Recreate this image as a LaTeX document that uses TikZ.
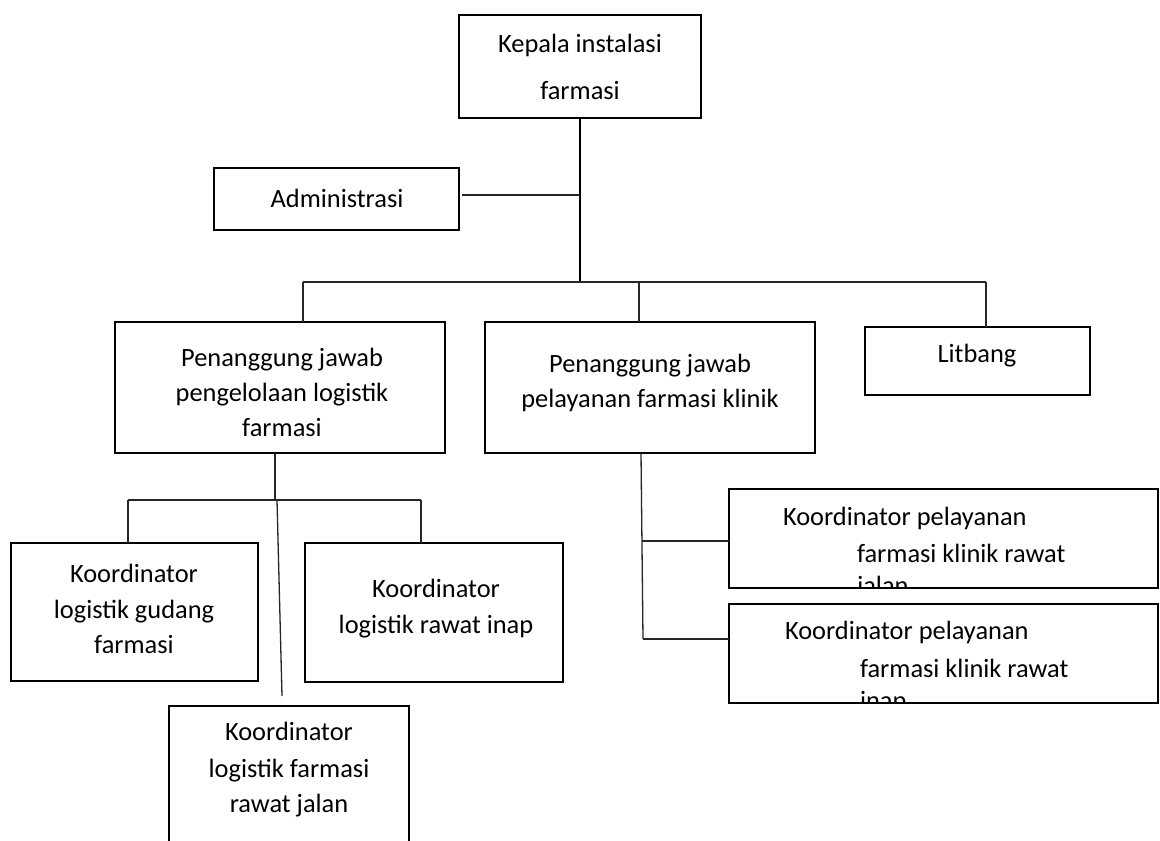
\documentclass[tikz,border=0pt]{standalone}
\usepackage{fontspec}
\setmainfont{Carlito}
\newcommand\orgbox[5]{\node[box, minimum width={#4-#2}, minimum height={#5-#3}] (#1) at ({(#2+#4)/2},{(#3+#5)/2}) {};}
\tikzset{
  box/.style={draw=black, line width=2.6pt, inner sep=0pt, outer sep=0pt},
  lbl/.style={anchor=base, inner sep=0pt, outer sep=0pt, font=\fontsize{26.4}{32}\selectfont},
  lblw/.style={lbl, anchor=base west},
  lnk/.style={line width=1.3pt, draw=black!85},
  trunk/.style={line width=2.8pt, draw=black}
}
\begin{document}
\begin{tikzpicture}[x=1pt,y=-1pt]
\clip (0,0) rectangle (1160,841);
\fill[white] (0,0) rectangle (1160,841);
% boxes
\orgbox{kepala}{459}{15}{701}{118}
\orgbox{admin}{214}{168}{459}{230}
\orgbox{pjone}{115}{322}{445}{453}
\orgbox{pjtwo}{485}{322}{815}{453}
\orgbox{litbang}{865}{327}{1090}{395}
\orgbox{klg}{11}{543}{258}{681}
\orgbox{klri}{305}{543}{563}{682}
\orgbox{klrj}{169}{706}{409}{870}
\orgbox{kpone}{729}{489}{1158}{588}
\orgbox{kptwo}{729}{604}{1158}{703}
% texts
\node[lbl] (t1) at (580,52) {Kepala instalasi};
\node[lbl] (t2) at (580,99) {farmasi};
\node[lbl] (t3) at (337,207) {Administrasi};
\node[lbl] (t4) at (282,366) {Penanggung jawab};
\node[lbl] (t5) at (282,401) {pengelolaan logistik};
\node[lbl] (t6) at (282,436) {farmasi};
\node[lbl] (t7) at (650,372) {Penanggung jawab};
\node[lbl] (t8) at (650,407) {pelayanan farmasi klinik};
\node[lbl] (t9) at (977,362) {Litbang};
\node[lbl] (t10) at (134,582) {Koordinator};
\node[lbl] (t11) at (134,618) {logistik gudang};
\node[lbl] (t12) at (134,653) {farmasi};
\node[lbl] (t13) at (436,597) {Koordinator};
\node[lbl] (t14) at (436,633) {logistik rawat inap};
\node[lbl] (t15) at (289,740) {Koordinator};
\node[lbl] (t16) at (289,777) {logistik farmasi};
\node[lbl] (t17) at (289,812) {rawat jalan};
\begin{scope}
\clip (729,489) rectangle (1158,588);
\node[lblw] (t18) at (783,525) {Koordinator pelayanan};
\node[lblw] (t19) at (857,562) {farmasi klinik rawat};
\node[lblw] (t20) at (857,594) {jalan};
\end{scope}
\begin{scope}
\clip (729,604) rectangle (1158,703);
\node[lblw] (t21) at (785,639) {Koordinator pelayanan};
\node[lblw] (t22) at (860,677) {farmasi klinik rawat};
\node[lblw] (t23) at (860,709) {inap};
\end{scope}
% junction coordinates
\coordinate (jbar) at (580,282);
\coordinate (jadm) at (580,195);
\coordinate (hl) at (303,282);
\coordinate (hm) at (639,282);
\coordinate (hr) at (986,282);
\coordinate (bone) at (275,500);
\coordinate (bl) at (128,500);
\coordinate (br) at (421,500);
\coordinate (sa) at (277,500);
\coordinate (sb) at (282,696);
\coordinate (ktop) at (641,453);
\coordinate (kbot) at (643,639);
\coordinate (kmid) at (642,541);
% connectors
\draw[trunk] (kepala.south) -- (jbar);
\draw[lnk, shorten <=3pt] (admin.east |- jadm) -- (jadm);
\draw[lnk] (hl) -- (hr);
\draw[lnk] (hl) -- (hl |- pjone.north);
\draw[lnk] (hm) -- (hm |- pjtwo.north);
\draw[lnk] (hr) -- (hr |- litbang.north);
\draw[lnk] (bone |- pjone.south) -- (bone);
\draw[lnk] (bl) -- (br);
\draw[lnk] (bl) -- (bl |- klg.north);
\draw[lnk] (br) -- (br |- klri.north);
\draw[lnk] (sa) -- (sb);
\draw[lnk] (ktop) -- (kbot);
\draw[lnk] (kmid) -- (kmid -| kpone.west);
\draw[lnk] (kbot) -- (kbot -| kptwo.west);
\end{tikzpicture}
\end{document}
